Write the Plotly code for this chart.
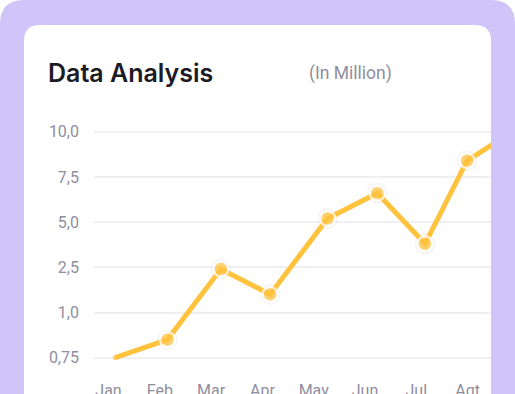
import numpy as np
import plotly.graph_objects as go

# ---- data ----
months = ["Jan", "Feb", "Mar", "Apr", "May", "Jun", "Jul", "Agt"]
point_month_pos = [0.13, 1.15, 2.19, 3.15, 4.27, 5.24, 6.17, 6.99, 8.10]
point_values = [0.75, 0.85, 2.44, 1.60, 5.20, 6.60, 3.80, 8.40, 10.40]
y_tick_values = [0.75, 1.0, 2.5, 5.0, 7.5, 10.0]
y_tick_labels = ["0,75", "1,0", "2,5", "5,0", "7,5", "10,0"]
title_text = "Data Analysis"
unit_text = "(In Million)"

# ---- the y axis is evenly spaced per tick (piecewise linear scale) ----
scale_domain = y_tick_values + [12.5]
scale_range = list(range(len(scale_domain)))
y_scaled = np.interp(point_values, scale_domain, scale_range)
y_tick_pos = np.interp(y_tick_values, scale_domain, scale_range)

W, H = 515, 394
ML, MR, MT, MB = 94, 24, 118, 23
PW, PH = W - ML - MR, H - MT - MB


def px(x):
    return (x - ML) / PW


def py(y):
    return (H - MB - y) / PH


YELLOW = "#FFC23C"
GREY = "#8F8E9E"

marker_size = [5] + [15] * (len(point_values) - 1)
marker_lw = [0] + [2.5] * (len(point_values) - 1)
shadow_size = [0] + [21] * (len(point_values) - 1)

fig = go.Figure()
fig.add_trace(go.Scatter(
    x=point_month_pos, y=y_scaled, mode="markers",
    marker=dict(size=shadow_size, color="rgba(80,60,20,0.07)", line=dict(width=0)),
    hoverinfo="skip", showlegend=False,
))
fig.add_trace(go.Scatter(
    x=point_month_pos, y=y_scaled, mode="lines+markers",
    line=dict(color=YELLOW, width=5),
    marker=dict(size=marker_size, color=YELLOW,
                line=dict(color="white", width=marker_lw)),
    showlegend=False,
))

shapes = [
    # purple backdrop
    dict(type="path", xref="paper", yref="paper", layer="below",
         path=(f"M {px(0)},{py(420)} L {px(0)},{py(24)} "
               f"Q {px(0)},{py(0)} {px(24)},{py(0)} "
               f"L {px(491)},{py(0)} Q {px(515)},{py(0)} {px(515)},{py(24)} "
               f"L {px(515)},{py(420)} Z"),
         fillcolor="#D1C4F8", line=dict(width=0)),
    # white card
    dict(type="path", xref="paper", yref="paper", layer="below",
         path=(f"M {px(24)},{py(420)} L {px(24)},{py(41)} "
               f"Q {px(24)},{py(25)} {px(40)},{py(25)} "
               f"L {px(475)},{py(25)} Q {px(491)},{py(25)} {px(491)},{py(41)} "
               f"L {px(491)},{py(420)} Z"),
         fillcolor="white", line=dict(width=0)),
]

annotations = [
    dict(text=title_text, xref="paper", yref="paper", x=px(46), y=py(73),
         xanchor="left", yanchor="middle", showarrow=False,
         font=dict(family="Inter", size=25, color="#1C1B24", weight=600)),
    dict(text=unit_text, xref="paper", yref="paper", x=px(307), y=py(74),
         xanchor="left", yanchor="middle", showarrow=False,
         font=dict(family="Roboto", size=17.5, color=GREY)),
]

fig.update_layout(
    width=W, height=H,
    margin=dict(l=ML, r=MR, t=MT, b=MB, autoexpand=False),
    paper_bgcolor="white", plot_bgcolor="rgba(0,0,0,0)",
    shapes=shapes, annotations=annotations,
    font=dict(family="Roboto", size=16, color=GREY),
    xaxis=dict(range=[-0.283, 7.456], tickvals=list(range(len(months))),
               ticktext=months, showgrid=False, zeroline=False, showline=False,
               ticks="", ticklabelstandoff=8, automargin=False, fixedrange=True),
    yaxis=dict(range=[-0.294, 5.303], tickvals=list(y_tick_pos),
               ticktext=y_tick_labels, showgrid=True, gridcolor="#F0F0F4",
               gridwidth=1.5, zeroline=False, showline=False, ticks="",
               ticklabelstandoff=14, automargin=False, fixedrange=True),
)

fig.write_html("out.html", config=dict(displayModeBar=False),
               post_script="document.body.style.margin='0';")
